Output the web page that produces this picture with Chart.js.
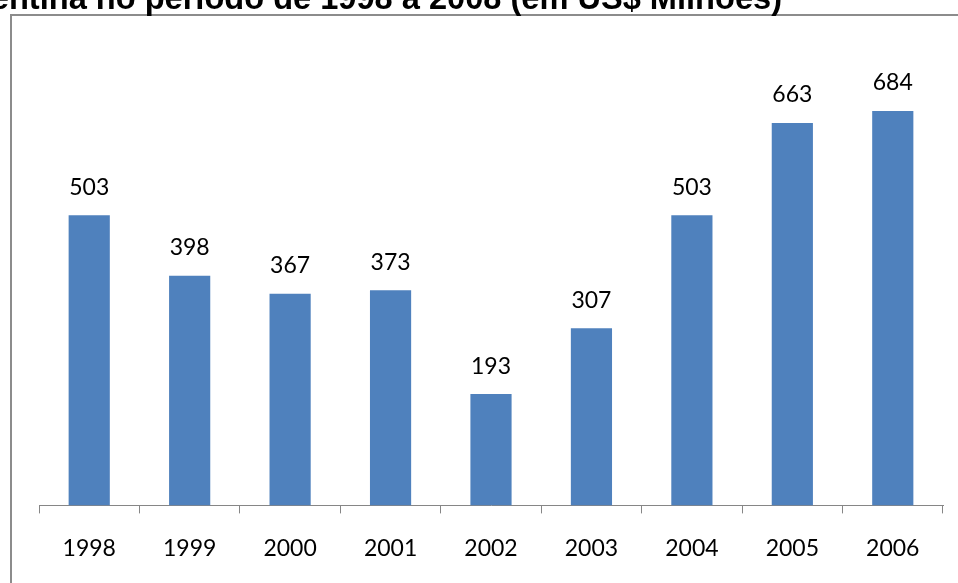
<!DOCTYPE html>
<html>
<head>
<meta charset="utf-8">
<script src="https://cdn.jsdelivr.net/npm/chart.js@4"></script>
<style>
  html, body { margin: 0; padding: 0; background: #fff; }
  #wrap { width: 958px; height: 583px; position: relative; }
</style>
</head>
<body>
<div id="wrap"><canvas id="mycanvas" width="958" height="583"></canvas></div>
<script>
var years = ["1998", "1999", "2000", "2001", "2002", "2003", "2004", "2005", "2006"];
var values = [503, 398, 367, 373, 193, 307, 503, 663, 684];
var titleText = "Argentina no período de 1998 a 2008 (em US$ Milhões)";

// frame + cut-off title at the top
var framePlugin = {
  id: "frame",
  afterDraw: function(chart) {
    var ctx = chart.ctx;
    ctx.save();
    ctx.strokeStyle = "#8c8c8c";
    ctx.lineWidth = 2;
    ctx.beginPath();
    ctx.moveTo(11, 583);
    ctx.lineTo(11, 15);
    ctx.lineTo(958, 15);
    ctx.stroke();
    ctx.fillStyle = "#000";
    ctx.font = "bold 32.6px 'Liberation Sans', Arial, sans-serif";
    ctx.textAlign = "right";
    ctx.textBaseline = "alphabetic";
    ctx.fillText(titleText, 782, 9);
    ctx.restore();
  }
};

// value labels above the bars
var labelPlugin = {
  id: "barLabels",
  afterDatasetsDraw: function(chart) {
    var ctx = chart.ctx;
    var meta = chart.getDatasetMeta(0);
    ctx.save();
    ctx.fillStyle = "#000";
    ctx.font = "23px Lato, sans-serif";
    ctx.textAlign = "center";
    ctx.textBaseline = "middle";
    meta.data.forEach(function(bar, i) {
      ctx.fillText(values[i], bar.x, bar.y - 28);
    });
    ctx.restore();
  }
};

var chartdata = {
  labels: years,
  datasets: [
    {
      label: "valor",
      backgroundColor: "#4f81bd",
      borderWidth: 0,
      barPercentage: 0.41,
      categoryPercentage: 1.0,
      data: values
    }
  ]
};

var ctx = document.getElementById("mycanvas");

var BarGraph = new Chart(ctx, {
  type: "bar",
  data: chartdata,
  plugins: [framePlugin, labelPlugin],
  options: {
    responsive: false,
    animation: false,
    layout: { padding: { top: 44, left: 39, right: 15, bottom: 0 } },
    plugins: {
      legend: { display: false },
      title: { display: false },
      tooltip: { enabled: false }
    },
    scales: {
      x: {
        offset: true,
        grid: {
          offset: true,
          drawOnChartArea: false,
          drawTicks: true,
          tickLength: 8,
          color: "#868686"
        },
        border: { display: true, color: "#868686", width: 1 },
        ticks: {
          color: "#000",
          padding: 21,
          font: { family: "Lato, sans-serif", size: 23 }
        }
      },
      y: {
        display: false,
        min: 0,
        max: 800
      }
    }
  }
});
</script>
</body>
</html>
